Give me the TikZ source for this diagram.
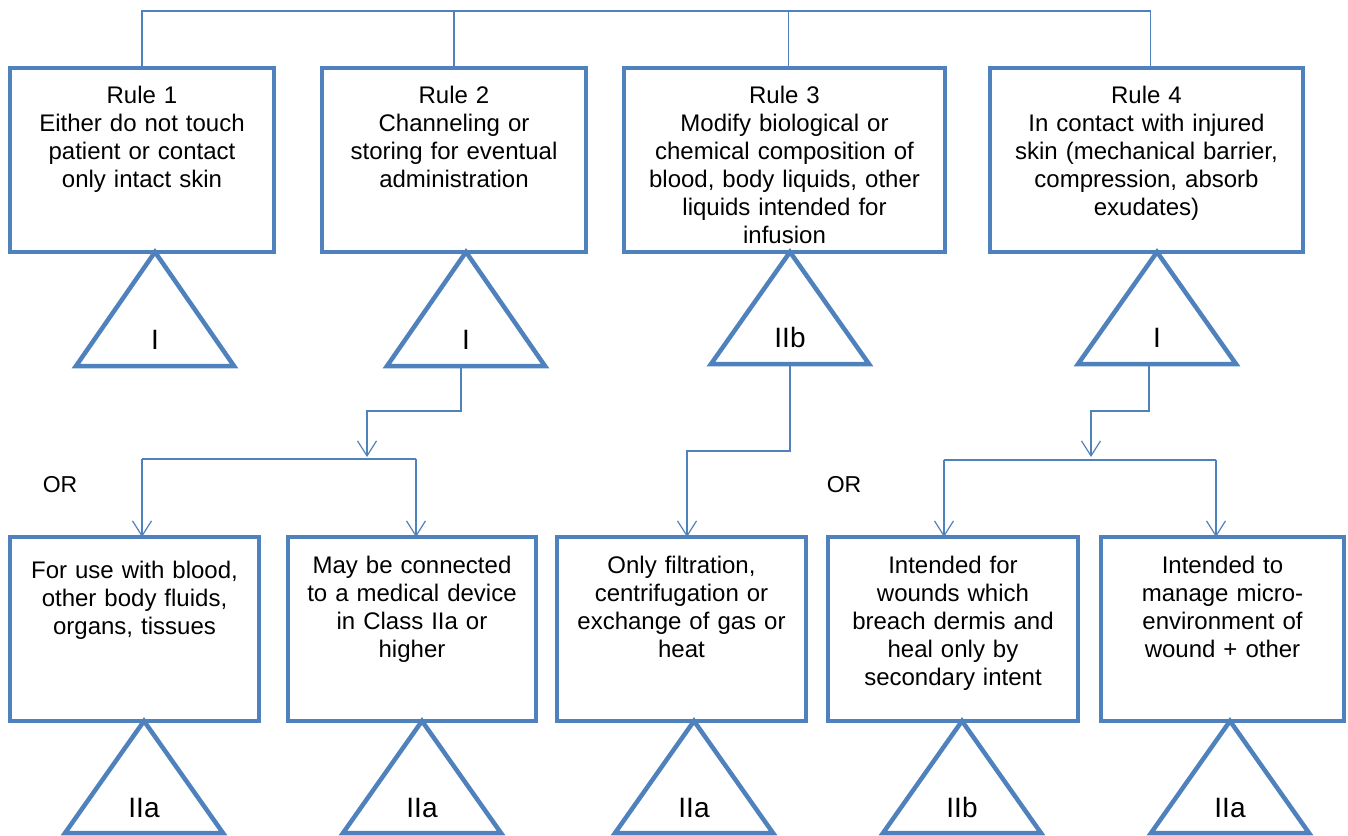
\documentclass[tikz,border=0pt]{standalone}
\usepackage{fontspec}
\setmainfont{Liberation Sans}
\usetikzlibrary{arrows.meta,positioning}

\definecolor{accent}{HTML}{4F81BD}

\tikzset{
  rulebox/.style={draw=accent, line width=4.7pt, inner sep=0pt, outer sep=0pt,
    text width=#1, align=center, text height=35pt, text depth=149pt,
    font=\fontsize{24}{28}\selectfont},
  casebox/.style={rulebox=#1, text height=36pt, text depth=148pt},
  tri/.style={draw=accent, line width=4.5pt},
  cls/.style={anchor=base, font=\fontsize{28}{32}\selectfont},
  link/.style={draw=accent, line width=1.2pt},
  flow/.style={link, -{Straight Barb[length=15pt,width=19pt]}},
  orlbl/.style={font=\fontsize{23}{28}\selectfont}
}

\begin{document}
\begin{tikzpicture}[x=1pt,y=-1pt]
\useasboundingbox (0,0) rectangle (1348,835);

% the four rules
\node[rulebox=264pt, anchor=north west] (r1) at (10,68) {Rule 1\\Either do not touch\\patient or contact\\only intact skin};
\node[rulebox=264pt] (r2) [right=48pt of r1] {Rule 2\\Channeling or\\storing for eventual\\administration};
\node[rulebox=321pt] (r3) [right=38pt of r2] {Rule 3\\Modify biological or\\chemical composition of\\blood, body liquids, other\\liquids intended for\\infusion};
\node[rulebox=313pt] (r4) [right=45pt of r3] {Rule 4\\In contact with injured\\skin (mechanical barrier,\\compression, absorb\\exudates)};

\coordinate (hub) at (0,11);
\draw[link] (r1.north) -- (r1.north |- hub) -- ([xshift=4pt]r4.north |- hub) -- ([xshift=4pt]r4.north);
\draw[link] (r2.north) -- (r2.north |- hub);
\draw[link] ([xshift=4pt]r3.north) -- ([xshift=4pt]r3.north |- hub);

% classes of the rules
\node[cls] (c1) at (155,349) {I};
\node[cls] (c2) at (466,349) {I};
\node[cls] (c3) at (790,347) {IIb};
\node[cls] (c4) at (1157,347) {I};
\draw[tri] (c1 |- r1.south) -- ++(-79,114) -- ++(158,0) -- cycle;
\draw[tri] (c2 |- r2.south) -- ++(-79,114) -- ++(74,0) coordinate (s2) -- ++(84,0) -- cycle;
\draw[tri] (c3 |- r3.south) -- ++(-79,112) -- ++(79,0) coordinate (s3) -- ++(79,0) -- cycle;
\draw[tri] (c4 |- r4.south) -- ++(-79,112) -- ++(71,0) coordinate (s4) -- ++(87,0) -- cycle;

% special cases
\node[casebox=249pt, anchor=north west, text height=41pt, text depth=143pt] (b1) at (10,537) {For use with blood,\\other body fluids,\\organs, tissues};
\node[casebox=248pt] (b2) [right=29pt of b1] {May be connected\\to a medical device\\in Class IIa or\\higher};
\node[casebox=249pt] (b3) [right=21pt of b2] {Only filtration,\\centrifugation or\\exchange of gas or\\heat};
\node[casebox=250pt] (b4) [right=22pt of b3] {Intended for\\wounds which\\breach dermis and\\heal only by\\secondary intent};
\node[casebox=243pt] (b5) [right=23pt of b4] {Intended to\\manage micro-\\environment of\\wound + other};

\node[cls] (d1) at (144,817) {IIa};
\node[cls] (d2) at (422,817) {IIa};
\node[cls] (d3) at (694,817) {IIa};
\node[cls] (d4) at (962,817) {IIb};
\node[cls] (d5) at (1230,817) {IIa};
\draw[tri] (d1 |- b1.south) -- ++(-79,112) -- ++(158,0) -- cycle;
\draw[tri] (d2 |- b2.south) -- ++(-79,112) -- ++(158,0) -- cycle;
\draw[tri] (d3 |- b3.south) -- ++(-79,112) -- ++(158,0) -- cycle;
\draw[tri] (d4 |- b4.south) -- ++(-79,112) -- ++(158,0) -- cycle;
\draw[tri] (d5 |- b5.south) -- ++(-79,112) -- ++(158,0) -- cycle;

\node[orlbl] (or1) at (60,485) {OR};
\node[orlbl] (or2) at (844,485) {OR};

% connectors
\coordinate (j1) at (367,457);
\coordinate (f1) at (142,459);
\coordinate (f2) at (416,459);
\draw[flow] (s2) -- ++(0,45) -| (j1);
\draw[link] (f1) -- (f2);
\draw[flow] (f1) -- (f1 |- b1.north);
\draw[flow] (f2) -- (f2 |- b2.north);

\coordinate (f3) at (687,451);
\draw[flow] (s3) |- (f3) -- (f3 |- b3.north);

\coordinate (j2) at (1091,457);
\coordinate (f4) at (944,460);
\coordinate (f5) at (1216,460);
\draw[flow] (s4) -- ++(0,47) -| (j2);
\draw[link] (f4) -- (f5);
\draw[flow] (f4) -- (f4 |- b4.north);
\draw[flow] (f5) -- (f5 |- b5.north);
\end{tikzpicture}
\end{document}
